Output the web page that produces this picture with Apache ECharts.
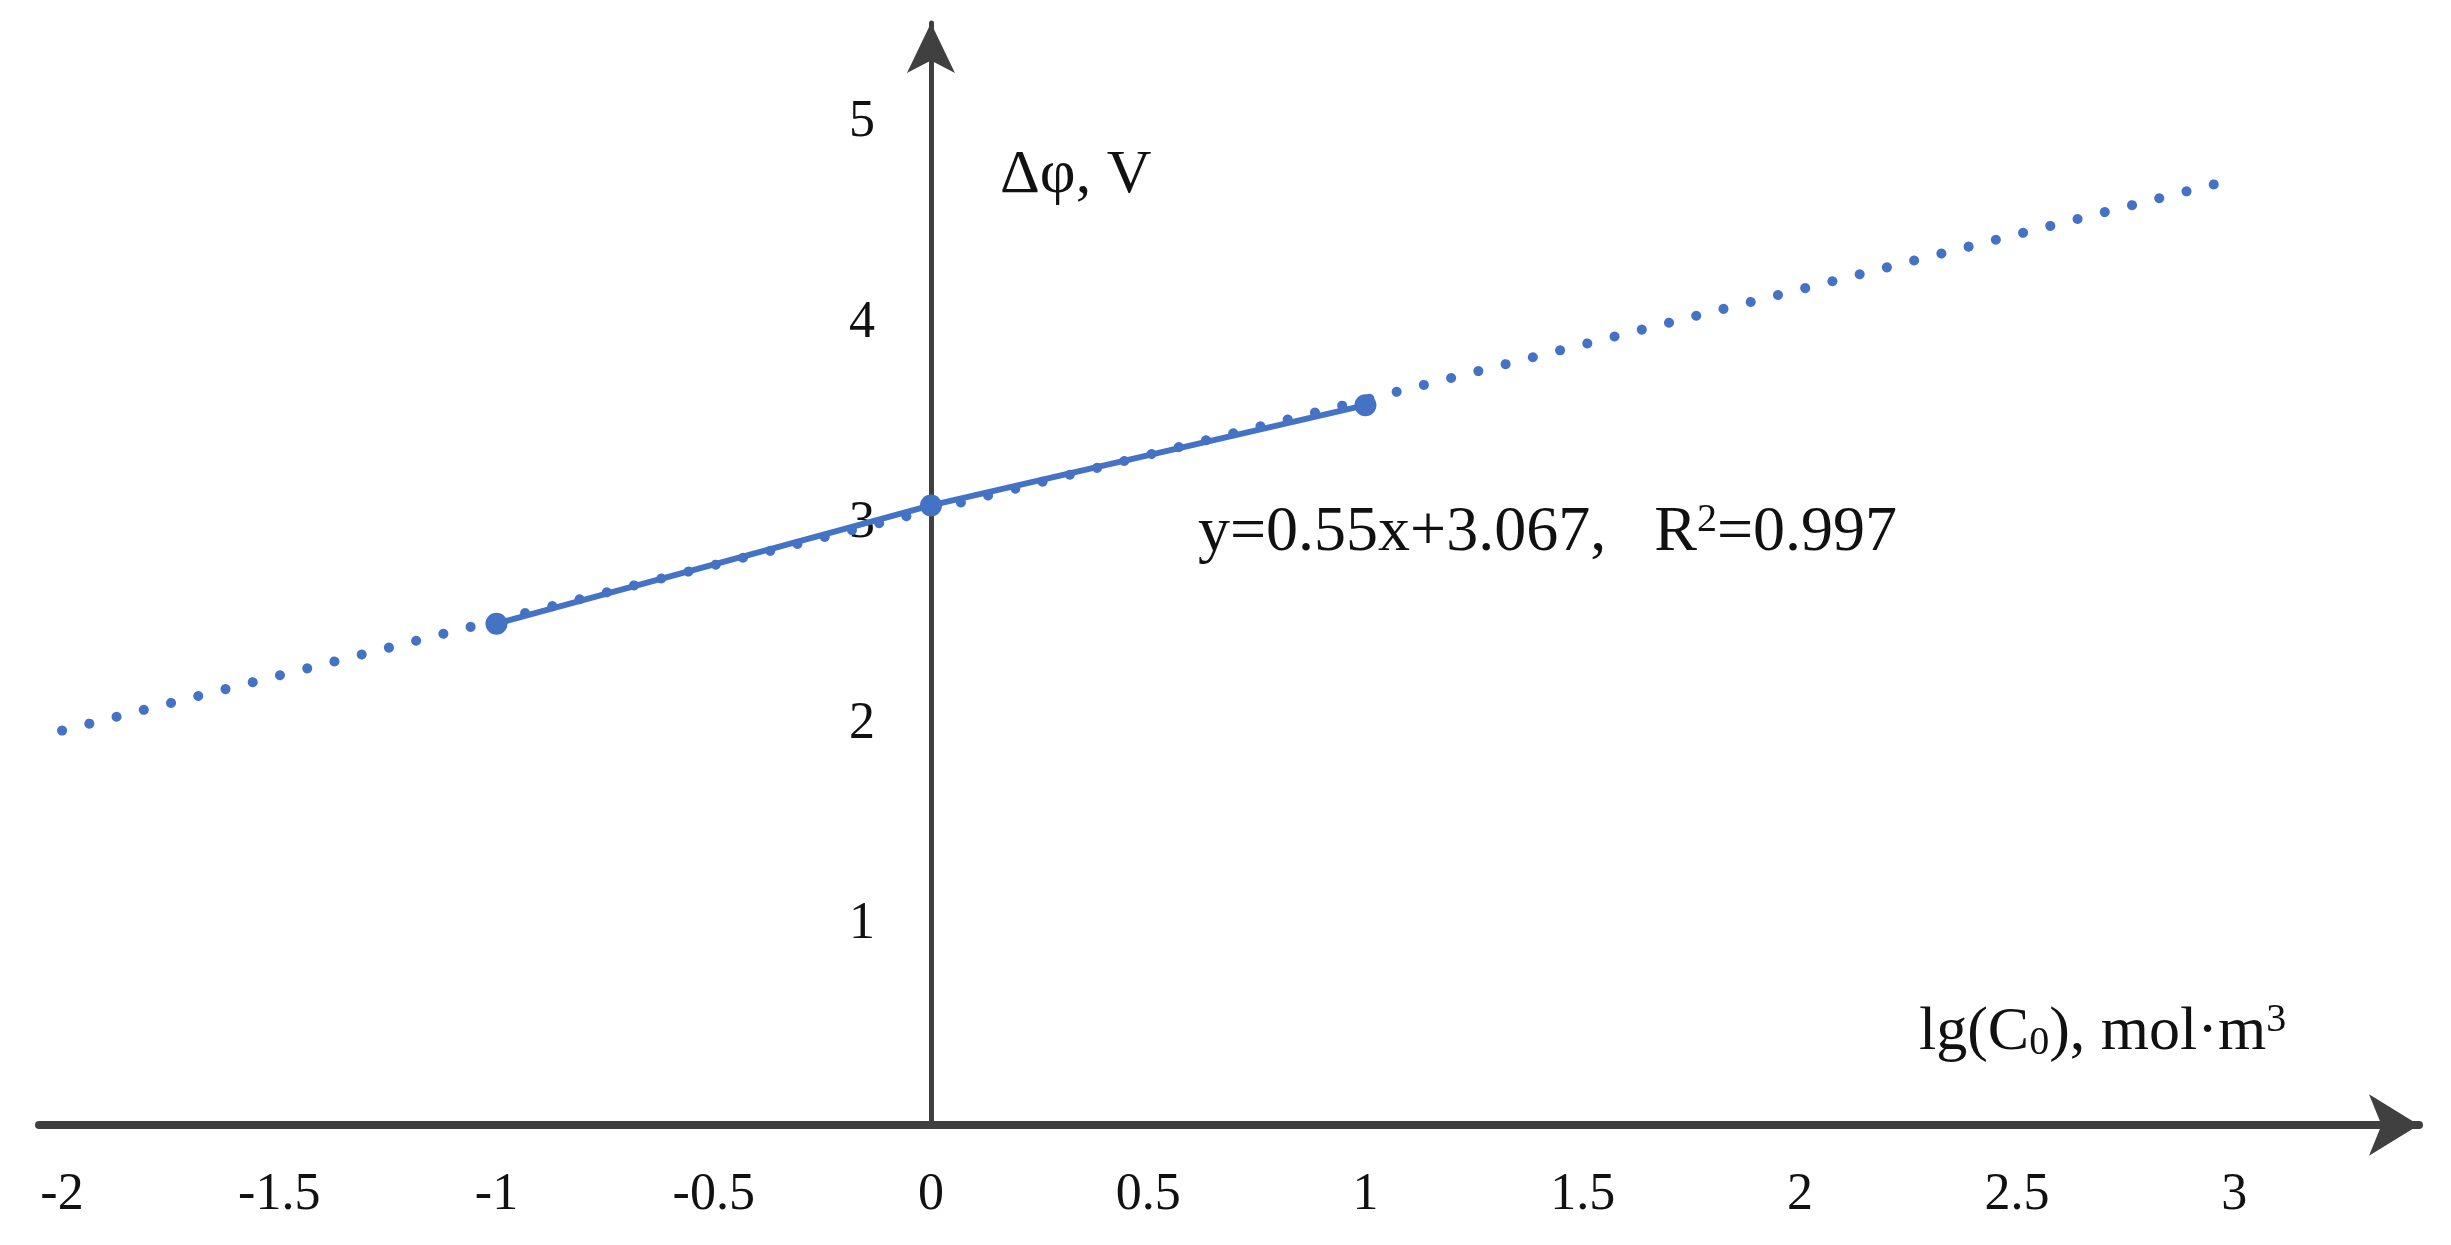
<!DOCTYPE html>
<html><head><meta charset="utf-8">
<script src="https://cdn.jsdelivr.net/npm/echarts@6/dist/echarts.min.js"></script>
<style>html,body{margin:0;padding:0;background:#fff}#c{width:2451px;height:1245px}</style>
</head><body><div id="c"></div>
<script>
const dataX = [-1, 0, 1];
const dataY = [2.5, 3.09, 3.59];
const trendX = [-2, 3];
const trendY = [1.967, 4.717];
const xTicks = [-2, -1.5, -1, -0.5, 0, 0.5, 1, 1.5, 2, 2.5, 3];
const yTicks = [1, 2, 3, 4, 5];
const font = '"Liberation Serif", "Times New Roman", serif';
const blue = '#4472C4';
const chart = echarts.init(document.getElementById('c'));
chart.setOption({
  animation: false,
  grid: {left: 39, right: 32, top: 23, bottom: 120, containLabel: false, outerBoundsMode: 'none'},
  xAxis: {type: 'value', min: -2.053, max: 3.425,
    axisLine: {show: true, onZero: true, symbol: ['none', 'arrow'], symbolSize: [46, 50], lineStyle: {color: '#404040', width: 8}},
    axisTick: {show: false}, splitLine: {show: false},
    axisLabel: {customValues: xTicks, fontFamily: font, fontSize: 52, color: '#111', margin: 44}},
  yAxis: [
    {type: 'value', min: 0, max: 5.496,
     axisLine: {show: true, onZero: true, symbol: ['none', 'arrow'], symbolSize: [36, 50], lineStyle: {color: '#404040', width: 5}},
     axisTick: {show: false}, splitLine: {show: false}, axisLabel: {show: false}},
    {type: 'value', min: 0, max: 5.496, position: 'left', offset: -892,
     axisLine: {show: false}, axisTick: {show: false}, splitLine: {show: false},
     axisLabel: {customValues: yTicks, fontFamily: font, fontSize: 52, color: '#111', margin: 56}}
  ],
  series: [
    {type: 'line', data: trendX.map((x, i) => [x, trendY[i]]), symbol: 'none',
     lineStyle: {color: blue, width: 10, type: [0.1, 28], cap: 'round'}, z: 2},
    {type: 'line', data: dataX.map((x, i) => [x, dataY[i]]), symbol: 'circle', symbolSize: 22,
     itemStyle: {color: blue}, lineStyle: {color: blue, width: 6}, z: 3}
  ],
  graphic: [
    {type: 'text', left: 1000, top: 145, style: {text: 'Δφ, V', font: '62px ' + font, fill: '#111'}},
    {type: 'text', left: 1198, top: 500, style: {text: 'y=0.55x+3.067,   R{s|2}=0.997', font: '64px ' + font, fill: '#111',
      rich: {s: {fontSize: 40, padding: [0, 0, 26, 0], fontFamily: font}}}},
    {type: 'text', left: 1919, top: 1000, style: {text: 'lg(C{b|0}), mol·m{s|3}', font: '62px ' + font, fill: '#111',
      rich: {s: {fontSize: 40, padding: [0, 0, 26, 0], fontFamily: font}, b: {fontSize: 40, padding: [20, 0, 0, 0], fontFamily: font}}}}
  ]
});
</script></body></html>
